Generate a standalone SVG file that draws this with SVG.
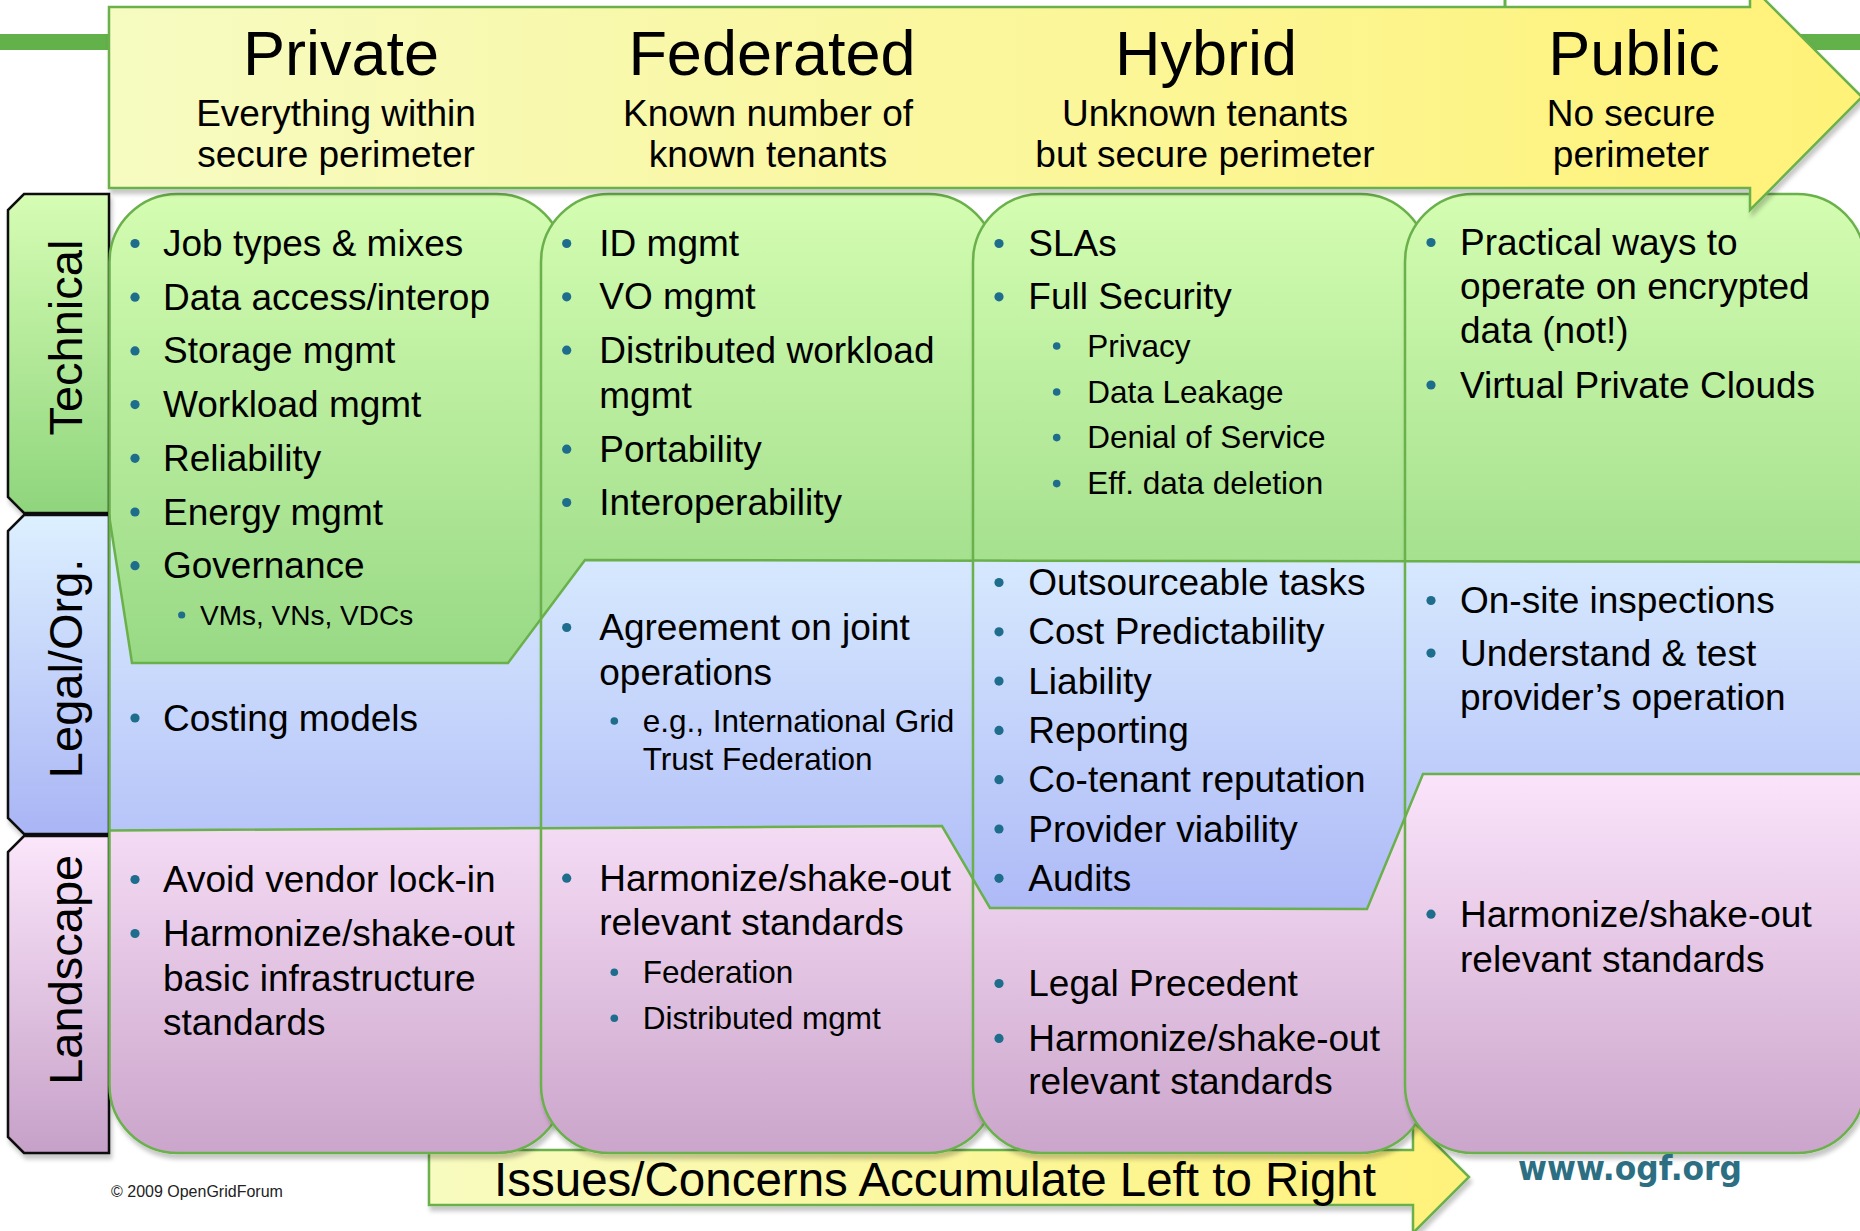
<svg xmlns="http://www.w3.org/2000/svg" width="1860" height="1231" viewBox="0 0 1860 1231">
<style>
.t{font-family:"Liberation Sans",Arial,sans-serif;font-size:37px;fill:#000}
.s{font-size:31.5px}
.xs{font-size:28px}
.ttl{font-family:"Liberation Sans",Arial,sans-serif;font-size:63px;fill:#000;text-anchor:middle}
.sub{font-family:"Liberation Sans",Arial,sans-serif;font-size:37px;fill:#000;text-anchor:middle}
.tab{font-family:"Liberation Sans",Arial,sans-serif;font-size:47px;fill:#000;text-anchor:middle}
.b{fill:#1f6d8c}
.card{fill:none;stroke:#6ab04c;stroke-width:2.5}
.tabshape{stroke:#111;stroke-width:2.5}
.edge{fill:none;stroke:#6ab04c;stroke-width:2.5}
</style>
<defs>
<linearGradient id="gTab1" x1="0" y1="0" x2="0" y2="1"><stop offset="0" stop-color="#d6fdb4"/><stop offset="1" stop-color="#8fd57d"/></linearGradient>
<linearGradient id="gTab2" x1="0" y1="0" x2="0" y2="1"><stop offset="0" stop-color="#ddf0ff"/><stop offset="1" stop-color="#a9b5f5"/></linearGradient>
<linearGradient id="gTab3" x1="0" y1="0" x2="0" y2="1"><stop offset="0" stop-color="#fbe6fb"/><stop offset="1" stop-color="#c6a0c8"/></linearGradient>
<linearGradient id="gGreen" gradientUnits="userSpaceOnUse" x1="0" y1="194" x2="0" y2="663"><stop offset="0" stop-color="#d4fdb1"/><stop offset="1" stop-color="#98d985"/></linearGradient>
<linearGradient id="gBlue" gradientUnits="userSpaceOnUse" x1="0" y1="515" x2="0" y2="908"><stop offset="0" stop-color="#dcefff"/><stop offset="1" stop-color="#aebaf7"/></linearGradient>
<linearGradient id="gPink" gradientUnits="userSpaceOnUse" x1="0" y1="774" x2="0" y2="1153"><stop offset="0" stop-color="#fbe4fb"/><stop offset="1" stop-color="#cba5cb"/></linearGradient>
<linearGradient id="gHead" gradientUnits="userSpaceOnUse" x1="109" y1="0" x2="1860" y2="0"><stop offset="0" stop-color="#f6fbc1"/><stop offset="1" stop-color="#fff278"/></linearGradient>
<linearGradient id="gFoot" gradientUnits="userSpaceOnUse" x1="429" y1="0" x2="1469" y2="0"><stop offset="0" stop-color="#f8fbbf"/><stop offset="1" stop-color="#fff27a"/></linearGradient>
<filter id="sh" x="-5%" y="-5%" width="115%" height="115%"><feDropShadow dx="2" dy="5" stdDeviation="2" flood-color="#000" flood-opacity="0.22"/></filter>
<clipPath id="c1"><rect x="109.5" y="194" width="455" height="959" rx="68"/></clipPath>
<clipPath id="c2"><rect x="541" y="194" width="455" height="959" rx="68"/></clipPath>
<clipPath id="c3"><rect x="973" y="194" width="455" height="959" rx="68"/></clipPath>
<clipPath id="c4"><rect x="1405" y="194" width="460" height="959" rx="68"/></clipPath>
<g id="bands">
<rect x="0" y="150" width="1870" height="1060" fill="url(#gBlue)"/>
<polygon points="0,150 1870,150 1870,562 585,560 508,663 132,663 109,515 0,515" fill="url(#gGreen)"/>
<polygon points="0,831 942,826 990,908 1367,909 1423,774 1870,774 1870,1210 0,1210" fill="url(#gPink)"/>
<polyline class="edge" points="109,515 132,663 508,663 585,560 1870,562"/>
<polyline class="edge" points="0,831 942,826 990,908 1367,909 1423,774 1870,774"/>
</g>
</defs>

<rect x="0" y="0" width="1860" height="1231" fill="#ffffff"/>
<!-- top green rule -->
<rect x="0" y="34" width="1860" height="16" fill="#62b14a"/>
<line x1="1505" y1="0" x2="1505" y2="7" stroke="#62b14a" stroke-width="3"/>

<!-- bottom arrow -->
<g id="footer-arrow">
<polygon filter="url(#sh)" points="429,1150 1413,1150 1413,1121 1469,1177 1413,1233 1413,1205 429,1205" fill="url(#gFoot)" stroke="#6ab04c" stroke-width="2.5"/>
<text class="t" x="935" y="1196" text-anchor="middle" style="font-size:47.5px">Issues/Concerns Accumulate Left to Right</text>
</g>

<!-- row tabs -->
<g id="tab-technical">
<path class="tabshape" filter="url(#sh)" d="M109,194 L24,194 L8,210 L8,497 L24,513 L109,513 Z" fill="url(#gTab1)"/>
<text class="tab" transform="translate(82,337.6) rotate(-90)">Technical</text>
</g>
<g id="tab-legal">
<path class="tabshape" filter="url(#sh)" d="M109,515 L24,515 L8,531 L8,818 L24,834 L109,834 Z" fill="url(#gTab2)"/>
<text class="tab" transform="translate(82,668.4) rotate(-90)">Legal/Org.</text>
</g>
<g id="tab-landscape">
<path class="tabshape" filter="url(#sh)" d="M109,836 L24,836 L8,852 L8,1137 L24,1153 L109,1153 Z" fill="url(#gTab3)"/>
<text class="tab" transform="translate(82,969.8) rotate(-90)">Landscape</text>
</g>

<!-- Private column -->
<g id="col-private">
<g filter="url(#sh)"><use href="#bands" clip-path="url(#c1)"/><rect class="card" x="109.5" y="194" width="455" height="959" rx="68"/></g>
<g class="b"><circle cx="135" cy="243.5" r="4.6"/><circle cx="135" cy="297.2" r="4.6"/><circle cx="135" cy="350.9" r="4.6"/><circle cx="135" cy="404.6" r="4.6"/><circle cx="135" cy="458.3" r="4.6"/><circle cx="135" cy="512" r="4.6"/><circle cx="135" cy="565.7" r="4.6"/><circle cx="181.7" cy="615" r="3.6"/>
<circle cx="135" cy="718" r="4.6"/>
<circle cx="135" cy="879.5" r="4.6"/><circle cx="135" cy="933.5" r="4.6"/></g>
<text class="t" x="163" y="256">Job types &amp; mixes</text>
<text class="t" x="163" y="309.7">Data access/interop</text>
<text class="t" x="163" y="363.4">Storage mgmt</text>
<text class="t" x="163" y="417.1">Workload mgmt</text>
<text class="t" x="163" y="470.8">Reliability</text>
<text class="t" x="163" y="524.5">Energy mgmt</text>
<text class="t" x="163" y="578.2">Governance</text>
<text class="t xs" x="200" y="625">VMs, VNs, VDCs</text>
<text class="t" x="163" y="730.5">Costing models</text>
<text class="t" x="163" y="892">Avoid vendor lock-in</text>
<text class="t" x="163" y="946">Harmonize/shake-out</text>
<text class="t" x="163" y="990.5">basic infrastructure</text>
<text class="t" x="163" y="1035">standards</text>
</g>

<!-- Federated column -->
<g id="col-federated">
<g filter="url(#sh)"><use href="#bands" clip-path="url(#c2)"/><rect class="card" x="541" y="194" width="455" height="959" rx="68"/></g>
<g class="b"><circle cx="566.7" cy="243.5" r="4.6"/><circle cx="566.7" cy="296.8" r="4.6"/><circle cx="566.7" cy="350.2" r="4.6"/><circle cx="566.7" cy="449.2" r="4.6"/><circle cx="566.7" cy="502.5" r="4.6"/>
<circle cx="566.7" cy="627.5" r="4.6"/><circle cx="614.3" cy="721" r="3.8"/>
<circle cx="566.7" cy="878.2" r="4.6"/><circle cx="614.3" cy="972.3" r="3.8"/><circle cx="614.3" cy="1018.3" r="3.8"/></g>
<text class="t" x="599.3" y="256">ID mgmt</text>
<text class="t" x="599.3" y="309.3">VO mgmt</text>
<text class="t" x="599.3" y="362.7">Distributed workload</text>
<text class="t" x="599.3" y="408.3">mgmt</text>
<text class="t" x="599.3" y="461.7">Portability</text>
<text class="t" x="599.3" y="515">Interoperability</text>
<text class="t" x="599.3" y="640">Agreement on joint</text>
<text class="t" x="599.3" y="685">operations</text>
<text class="t s" x="642.7" y="731.6">e.g., International Grid</text>
<text class="t s" x="642.7" y="770">Trust Federation</text>
<text class="t" x="599.3" y="890.7">Harmonize/shake-out</text>
<text class="t" x="599.3" y="934.5">relevant standards</text>
<text class="t s" x="642.7" y="983">Federation</text>
<text class="t s" x="642.7" y="1029">Distributed mgmt</text>
</g>

<!-- Hybrid column -->
<g id="col-hybrid">
<g filter="url(#sh)"><use href="#bands" clip-path="url(#c3)"/><rect class="card" x="973" y="194" width="455" height="959" rx="68"/></g>
<g class="b"><circle cx="999" cy="243.5" r="4.6"/><circle cx="999" cy="296.8" r="4.6"/>
<circle cx="1056.7" cy="346" r="3.8"/><circle cx="1056.7" cy="392" r="3.8"/><circle cx="1056.7" cy="437.6" r="3.8"/><circle cx="1056.7" cy="483.6" r="3.8"/>
<circle cx="999" cy="582.5" r="4.6"/><circle cx="999" cy="631.8" r="4.6"/><circle cx="999" cy="681.1" r="4.6"/><circle cx="999" cy="730.4" r="4.6"/><circle cx="999" cy="779.7" r="4.6"/><circle cx="999" cy="829" r="4.6"/><circle cx="999" cy="878.3" r="4.6"/>
<circle cx="999" cy="983.5" r="4.6"/><circle cx="999" cy="1038.4" r="4.6"/></g>
<text class="t" x="1028.3" y="256">SLAs</text>
<text class="t" x="1028.3" y="309.3">Full Security</text>
<text class="t s" x="1087.3" y="356.7">Privacy</text>
<text class="t s" x="1087.3" y="402.7">Data Leakage</text>
<text class="t s" x="1087.3" y="448.3">Denial of Service</text>
<text class="t s" x="1087.3" y="494.3">Eff. data deletion</text>
<text class="t" x="1028.3" y="595">Outsourceable tasks</text>
<text class="t" x="1028.3" y="644.3">Cost Predictability</text>
<text class="t" x="1028.3" y="693.6">Liability</text>
<text class="t" x="1028.3" y="742.9">Reporting</text>
<text class="t" x="1028.3" y="792.2">Co-tenant reputation</text>
<text class="t" x="1028.3" y="841.5">Provider viability</text>
<text class="t" x="1028.3" y="890.8">Audits</text>
<text class="t" x="1028.3" y="996">Legal Precedent</text>
<text class="t" x="1028.3" y="1050.9">Harmonize/shake-out</text>
<text class="t" x="1028.3" y="1094">relevant standards</text>
</g>

<!-- Public column -->
<g id="col-public">
<g filter="url(#sh)"><use href="#bands" clip-path="url(#c4)"/><rect class="card" x="1405" y="194" width="460" height="959" rx="68"/></g>
<g class="b"><circle cx="1431" cy="242.5" r="4.6"/><circle cx="1431" cy="385" r="4.6"/>
<circle cx="1431" cy="600.5" r="4.6"/><circle cx="1431" cy="653.1" r="4.6"/>
<circle cx="1431" cy="914.2" r="4.6"/></g>
<text class="t" x="1460" y="255">Practical ways to</text>
<text class="t" x="1460" y="298.6">operate on encrypted</text>
<text class="t" x="1460" y="343">data (not!)</text>
<text class="t" x="1460" y="397.5">Virtual Private Clouds</text>
<text class="t" x="1460" y="613">On-site inspections</text>
<text class="t" x="1460" y="665.6">Understand &amp; test</text>
<text class="t" x="1460" y="710">provider’s operation</text>
<text class="t" x="1460" y="926.7">Harmonize/shake-out</text>
<text class="t" x="1460" y="971.7">relevant standards</text>
</g>

<!-- header arrow -->
<g id="header">
<polygon filter="url(#sh)" points="109,7 1750,7 1750,-15 1862,97 1750,210 1750,188 109,188" fill="url(#gHead)" stroke="#6ab04c" stroke-width="2.5"/>
<text class="ttl" x="341" y="75">Private</text>
<text class="sub" x="336" y="126">Everything within</text>
<text class="sub" x="336" y="167">secure perimeter</text>
<text class="ttl" x="772" y="75">Federated</text>
<text class="sub" x="768" y="126">Known number of</text>
<text class="sub" x="768" y="167">known tenants</text>
<text class="ttl" x="1206" y="75">Hybrid</text>
<text class="sub" x="1205" y="126">Unknown tenants</text>
<text class="sub" x="1205" y="167">but secure perimeter</text>
<text class="ttl" x="1634" y="75">Public</text>
<text class="sub" x="1631" y="126">No secure</text>
<text class="sub" x="1631" y="167">perimeter</text>
</g>

<text x="111" y="1197" style="font-family:'Liberation Sans',Arial,sans-serif;font-size:16px;fill:#222">© 2009 OpenGridForum</text>
<text x="1518" y="1180" textLength="224" lengthAdjust="spacingAndGlyphs" style="font-family:'DejaVu Sans','Liberation Sans',sans-serif;font-weight:bold;font-size:33px;fill:#2c6f82">www.ogf.org</text>
</svg>
